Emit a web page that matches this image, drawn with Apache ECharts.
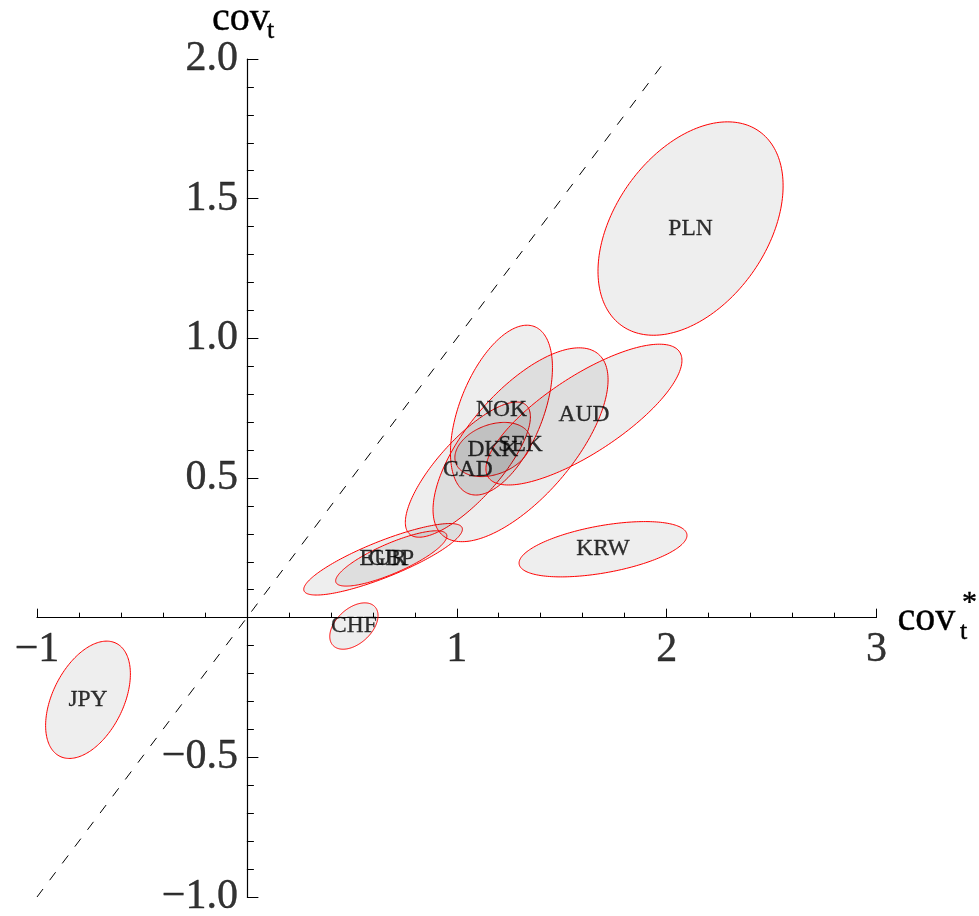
<!DOCTYPE html>
<html><head><meta charset="utf-8">
<script src="https://cdn.jsdelivr.net/npm/echarts@6/dist/echarts.min.js"></script>
<style>html,body{margin:0;padding:0;background:#fff}#c{width:979px;height:916px}</style>
</head><body><div id="c"></div>
<script>
// ---- data ----
const currencies  = ['JPY', 'CHF', 'EUR', 'GBP', 'CAD', 'DKK', 'NOK', 'SEK', 'AUD', 'KRW', 'PLN'];
const centerX     = [-0.757, 0.510, 0.649, 0.688, 1.053, 1.172, 1.213, 1.304, 1.606, 1.697, 2.114];
const centerY     = [-0.294, -0.030, 0.209, 0.212, 0.530, 0.602, 0.743, 0.619, 0.727, 0.245, 1.393];
const halfWidthX  = [0.202, 0.115, 0.378, 0.265, 0.298, 0.181, 0.243, 0.417, 0.467, 0.400, 0.441];
const halfHeightY = [0.210, 0.083, 0.128, 0.099, 0.242, 0.097, 0.304, 0.347, 0.252, 0.099, 0.382];
const correlation = [0.44, 0.45, 0.84, 0.81, 0.78, 0.30, 0.50, 0.67, 0.77, 0.50, 0.40];
const diagonalLine = [[-1, -1], [2, 2]];
const xTickValues = [-1, 1, 2, 3];
const xTickLabels = ['\u22121', '1', '2', '3'];
const yTickValues = [-1, -0.5, 0.5, 1, 1.5, 2];
const yTickLabels = ['\u22121.0', '\u22120.5', '0.5', '1.0', '1.5', '2.0'];

const SERIF = "'Liberation Serif', 'Times New Roman', serif";
const chart = echarts.init(document.getElementById('c'), null, {renderer: 'canvas'});

chart.setOption({
  animation: false,
  backgroundColor: '#fff',
  grid: {left: 37, top: 59, width: 839.5, height: 838, containLabel: false, outerBoundsMode: 'none'},
  xAxis: {
    type: 'value', min: -1, max: 3, interval: 1,
    axisLine: {show: true, onZero: true, lineStyle: {color: '#000', width: 1.2}},
    axisTick: {show: true, inside: true, length: 9, lineStyle: {color: '#000', width: 1}},
    minorTick: {show: true, splitNumber: 5, length: 5, lineStyle: {color: '#000', width: 1}},
    splitLine: {show: false},
    axisLabel: {show: false}
  },
  yAxis: {
    type: 'value', min: -1, max: 2, interval: 0.5,
    axisLine: {show: true, onZero: true, lineStyle: {color: '#000', width: 1.2}},
    axisTick: {show: true, inside: true, length: 11.5, lineStyle: {color: '#000', width: 1}},
    minorTick: {show: true, splitNumber: 5, length: 7, lineStyle: {color: '#000', width: 1}},
    splitLine: {show: false},
    axisLabel: {show: false}
  },
  series: [
    {
      type: 'line', data: diagonalLine, symbol: 'none', silent: true,
      lineStyle: {color: '#000', width: 1, type: [10, 11]}, z: 1
    },
    {
      type: 'custom', coordinateSystem: 'cartesian2d', silent: true, z: 2,
      data: currencies.map((n, i) => [centerX[i], centerY[i], i]),
      encode: {x: 0, y: 1},
      renderItem: function (params, api) {
        const i = api.value(2);
        const cx = centerX[i], cy = centerY[i], hx = halfWidthX[i], hy = halfHeightY[i], r = correlation[i];
        const s = Math.sqrt(1 - r * r);
        const pts = [];
        const N = 200;
        for (let k = 0; k < N; k++) {
          const t = k / N * 2 * Math.PI;
          pts.push(api.coord([cx + hx * Math.cos(t), cy + hy * (r * Math.cos(t) + s * Math.sin(t))]));
        }
        return {type: 'polygon', shape: {points: pts},
          style: {fill: 'rgba(0,0,0,0.067)', stroke: '#ff0000', lineWidth: 1}};
      }
    },
    {
      type: 'scatter', silent: true, symbolSize: 0, z: 3,
      data: currencies.map((n, i) => ({name: n, value: [centerX[i], centerY[i]]})),
      label: {show: true, position: 'inside', formatter: '{b}', color: '#000',
        fontFamily: SERIF, fontSize: 23.5, textBorderColor: '#000', textBorderWidth: 0.3}
    },
    {
      // x-axis tick labels, hung below the axis line that crosses at y = 0
      type: 'scatter', silent: true, symbolSize: 0, z: 4,
      data: xTickValues.map((v, i) => ({name: xTickLabels[i], value: [v, 0]})),
      label: {show: true, position: 'bottom', distance: 11, formatter: '{b}', color: '#000',
        fontFamily: SERIF, fontSize: 42, textBorderColor: '#000', textBorderWidth: 0.4}
    },
    {
      // y-axis tick labels, left of the axis line that crosses at x = 0
      type: 'scatter', silent: true, symbolSize: 0, z: 4,
      data: yTickValues.map((v, i) => ({name: yTickLabels[i], value: [0, v]})),
      label: {show: true, position: 'left', distance: 9, formatter: '{b}', color: '#000',
        fontFamily: SERIF, fontSize: 42, textBorderColor: '#000', textBorderWidth: 0.4}
    }
  ]
});

// axis titles placed relative to the axis ends
const yEnd = chart.convertToPixel({gridIndex: 0}, [0, 2]);
const xEnd = chart.convertToPixel({gridIndex: 0}, [3, 0]);
const txt = (t, x, y, size) => ({type: 'text', x: x, y: y, silent: true,
  style: {text: t, fontFamily: SERIF, fontSize: size, fill: '#000', stroke: '#000', lineWidth: 0.4,
    align: 'left', verticalAlign: 'middle'}});
chart.setOption({graphic: [
  txt('cov', yEnd[0] - 35, yEnd[1] - 39.5, 40),
  txt('t', yEnd[0] + 20, yEnd[1] - 28, 26),
  txt('cov', xEnd[0] + 21, xEnd[1] + 2, 40),
  txt('t', xEnd[0] + 83.5, xEnd[1] + 15, 26),
  txt('*', xEnd[0] + 85.5, xEnd[1] - 15, 30)
]});
</script></body></html>
